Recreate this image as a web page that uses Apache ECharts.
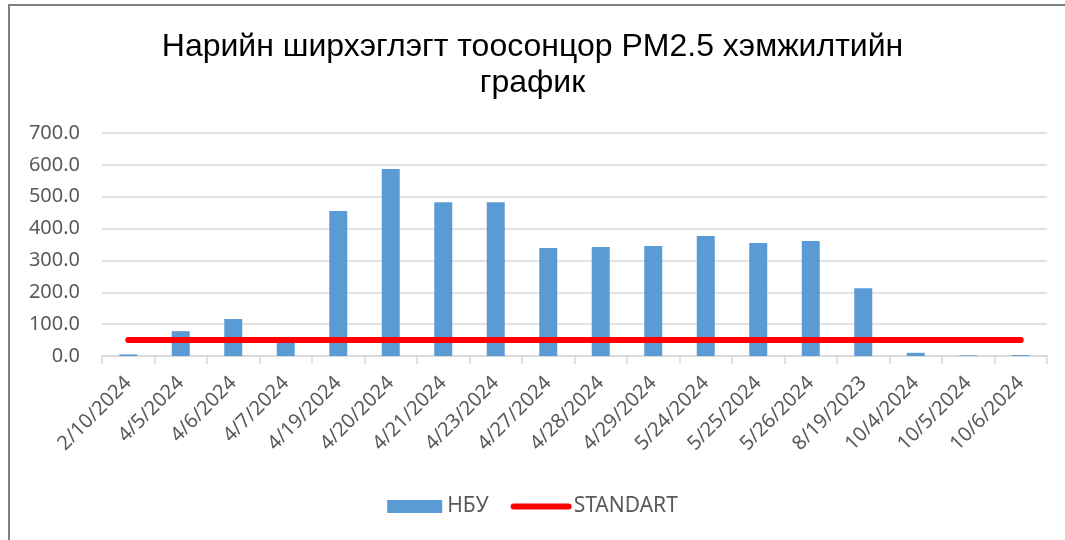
<!DOCTYPE html>
<html lang="mn">

<head>
  <meta charset="UTF-8">
  <title>PM2.5</title>
  <script src="https://cdn.jsdelivr.net/npm/echarts@6/dist/echarts.min.js"></script>
  <style>
    body { margin: 0; background: #fff; }
    #frame { position: absolute; left: 8px; top: 4px; width: 1070px; height: 560px;
      border-left: 2px solid #808080; border-top: 2px solid #808080; }
  </style>
</head>

<body>
  <div id="frame"></div>
  <div id="chart" style="position:absolute; left:0; top:0; width: 1065px; height: 540px;"></div>

  <script>
    // dates on the x axis
    var dates = ['2/10/2024', '4/5/2024', '4/6/2024', '4/7/2024', '4/19/2024', '4/20/2024',
      '4/21/2024', '4/23/2024', '4/27/2024', '4/28/2024', '4/29/2024', '5/24/2024',
      '5/25/2024', '5/26/2024', '8/19/2023', '10/4/2024', '10/5/2024', '10/6/2024'];
    // measured PM2.5 (НБУ)
    var nbu = [5, 78, 116, 45, 455, 587, 483, 483, 339, 342, 345, 377, 355, 361, 213, 10, 2, 3];
    // standard limit
    var standart = [50, 50, 50, 50, 50, 50, 50, 50, 50, 50, 50, 50, 50, 50, 50, 50, 50, 50];

    var myChart = echarts.init(document.getElementById('chart'));

    myChart.setOption({
      animation: false,
      title: {
        text: 'Нарийн ширхэглэгт тоосонцор PM2.5 хэмжилтийн\nграфик',
        left: 'center',
        top: 24,
        textStyle: { fontFamily: 'Liberation Sans', fontSize: 32, fontWeight: 'normal', color: '#000', lineHeight: 36 }
      },
      legend: {
        bottom: 18,
        left: 'center',
        itemGap: 22,
        itemWidth: 55,
        itemHeight: 13,
        textStyle: { fontFamily: 'Noto Sans', fontSize: 21, color: '#595959' },
        data: [
          { name: 'НБУ', icon: 'rect' },
          { name: 'STANDART', itemStyle: { opacity: 0 }, lineStyle: { width: 6, cap: 'round', color: '#ff0000' } }
        ]
      },
      grid: { left: 102, right: 18, top: 133, bottom: 184 },
      xAxis: {
        type: 'category',
        data: dates,
        axisLine: { lineStyle: { color: '#d9d9d9', width: 1.5 } },
        axisTick: { show: true, length: 8, lineStyle: { color: '#d9d9d9', width: 1.5 } },
        axisLabel: { rotate: 45, fontFamily: 'Noto Sans', fontSize: 20, color: '#595959', margin: 24, interval: 0 }
      },
      yAxis: {
        type: 'value',
        min: 0,
        max: 700,
        interval: 100,
        axisLine: { show: false },
        axisTick: { show: false },
        axisLabel: {
          fontFamily: 'Noto Sans', fontSize: 20, color: '#595959', margin: 22,
          formatter: function (v) { return v.toFixed(1); }
        },
        splitLine: { lineStyle: { color: '#d9d9d9', width: 1.5 } }
      },
      series: [
        {
          name: 'НБУ',
          type: 'bar',
          data: nbu,
          barWidth: 18,
          itemStyle: { color: '#5b9bd5' }
        },
        {
          name: 'STANDART',
          type: 'line',
          data: standart,
          symbol: 'none',
          lineStyle: { color: '#ff0000', width: 6, cap: 'round' },
          itemStyle: { color: '#ff0000' }
        }
      ]
    });
  </script>
</body>

</html>
